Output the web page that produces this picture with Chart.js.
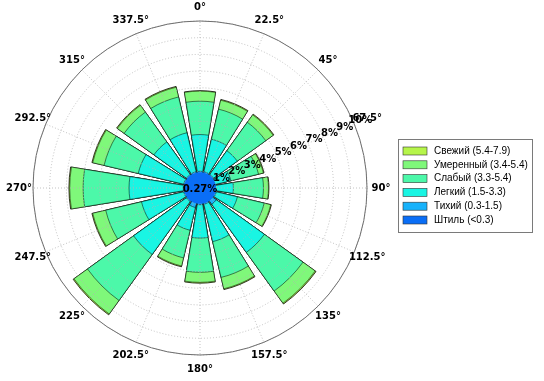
<!DOCTYPE html>
<html>
<head>
<meta charset="utf-8">
<script src="https://cdn.jsdelivr.net/npm/chart.js@4.4.1/dist/chart.umd.min.js"></script>
<style>
html,body{margin:0;padding:0;background:#fff;}
#wrap{width:544px;height:381px;}
</style>
</head>
<body>
<div id="wrap"><canvas id="c" width="544" height="381"></canvas></div>
<script>
// ---------- data ----------
const directions = ['0°','22.5°','45°','67.5°','90°','112.5°','135°','157.5°',
                    '180°','202.5°','225°','247.5°','270°','292.5°','315°','337.5°'];
const speedClasses = ['Штиль (<0.3)','Тихий (0.3-1.5)','Легкий (1.5-3.3)',
                      'Слабый (3.3-5.4)','Умеренный (3.4-5.4)','Свежий (5.4-7.9)'];
const calmPercent = 0.27;
const radialTicks = [1,2,3,4,5,6,7,8,9,10];

// frequency (%) of each speed class per direction
const shtil     = [0.30,0.30,0.30,0.30,0.30,0.30,0.30,0.30,0.30,0.30,0.30,0.30,0.30,0.30,0.30,0.30];
const tikhiy    = [0.70,0.70,0.70,0.60,0.60,0.70,0.90,0.70,0.70,0.90,0.70,0.70,0.70,0.70,0.70,0.70];
const legkiy    = [2.20,2.00,1.75,1.00,1.10,1.30,3.55,2.30,2.00,1.40,3.90,2.60,3.25,2.80,2.40,2.40];
const slabyy    = [2.00,1.85,2.10,1.70,1.80,1.65,2.85,2.20,2.05,1.70,3.40,2.20,2.75,2.10,2.20,2.20];
const umerennyy = [0.60,0.55,0.55,0.30,0.30,0.40,0.90,0.70,0.60,0.50,1.00,0.80,0.80,0.70,0.50,0.60];
const svezhiy   = [0.03,0.05,0.05,0.04,0.03,0.04,0.06,0.05,0.05,0.05,0.06,0.05,0.05,0.05,0.05,0.05];

const classValues = [shtil, tikhiy, legkiy, slabyy, umerennyy, svezhiy];
const classColors = ['#0a6ef6','#17b2fb','#19f5e3','#4cf8a9','#7ff87a','#b6f54a'];

// ---------- build stacked (cumulative) wedges ----------
const BAR = 18.5, GAP = 22.5 - BAR;
const labels32 = [];
directions.forEach(d => { labels32.push(d); labels32.push(''); });
const cumulative = [];
let running = directions.map(() => 0);
classValues.forEach(arr => {
  running = running.map((v, i) => v + arr[i]);
  cumulative.push(running.slice());
});
const datasets = cumulative.map((cum, k) => {
  const data = [];
  cum.forEach(v => { data.push(v); data.push(null); });
  return {
    label: speedClasses[k],
    data: data,
    backgroundColor: classColors[k],
    borderColor: 'rgba(0,0,0,0.85)',
    borderWidth: k === classValues.length - 1 ? 0.9 : 0.6,
    angle: (ctx) => (ctx.dataIndex % 2 ? GAP : BAR)
  };
});

// ---------- overlay plugin ----------
const windrosePlugin = {
  id: 'windrose',
  afterDraw(chart) {
    const s = chart.scales.r, ctx = chart.ctx;
    const cx = s.xCenter, cy = s.yCenter, R = s.drawingArea;
    ctx.save();
    // spokes
    ctx.strokeStyle = '#b4b4b4'; ctx.lineWidth = 0.8; ctx.setLineDash([1, 2]);
    directions.forEach(d => {
      const a = parseFloat(d) * Math.PI / 180;
      ctx.beginPath(); ctx.moveTo(cx, cy);
      ctx.lineTo(cx + R * Math.sin(a), cy - R * Math.cos(a)); ctx.stroke();
    });
    ctx.setLineDash([]);
    // outer circle
    ctx.strokeStyle = '#6e6e6e'; ctx.lineWidth = 1;
    ctx.beginPath(); ctx.arc(cx, cy, R, 0, Math.PI * 2); ctx.stroke();
    // calm circle
    const rc = s.getDistanceFromCenterForValue(0.95);
    ctx.fillStyle = classColors[0];
    ctx.beginPath(); ctx.arc(cx, cy, rc, 0, Math.PI * 2); ctx.fill();
    ctx.fillStyle = '#000'; ctx.font = 'bold 10px "DejaVu Sans"';
    ctx.textAlign = 'center'; ctx.textBaseline = 'middle';
    ctx.fillText(calmPercent.toFixed(2) + '%', cx, cy + 1);
    // radial labels
    const ra = 67.5 * Math.PI / 180;
    radialTicks.forEach(v => {
      const r = s.getDistanceFromCenterForValue(v);
      ctx.fillText(v + '%', cx + r * Math.sin(ra) + 6, cy - r * Math.cos(ra) - 3.5);
    });
    // angular labels
    directions.forEach(d => {
      const a = parseFloat(d) * Math.PI / 180;
      const rl = R + 14;
      ctx.fillText(d, cx + rl * Math.sin(a), cy - rl * Math.cos(a));
    });
    // legend
    const lx = 398, ly = 139, lw = 134, lh = 93;
    ctx.fillStyle = '#fff'; ctx.fillRect(lx, ly, lw, lh);
    ctx.strokeStyle = '#7a7a7a'; ctx.lineWidth = 1;
    ctx.strokeRect(lx + 0.5, ly + 0.5, lw, lh);
    ctx.font = '10px "Liberation Sans", Arial, sans-serif';
    ctx.textAlign = 'left'; ctx.textBaseline = 'middle';
    for (let k = speedClasses.length - 1, row = 0; k >= 0; k--, row++) {
      const y = ly + 12 + row * 13.8;
      ctx.fillStyle = classColors[k];
      ctx.fillRect(lx + 5, y - 4, 24, 8);
      ctx.strokeStyle = '#333'; ctx.lineWidth = 0.6;
      ctx.strokeRect(lx + 5, y - 4, 24, 8);
      ctx.fillStyle = '#000';
      ctx.fillText(speedClasses[k], lx + 36, y);
    }
    ctx.restore();
  }
};

new Chart(document.getElementById('c'), {
  type: 'polarArea',
  data: { labels: labels32, datasets: datasets },
  options: {
    responsive: false,
    animation: false,
    devicePixelRatio: 1,
    layout: { padding: { left: 33, top: 21, right: 177, bottom: 26 } },
    plugins: { legend: { display: false }, tooltip: { enabled: false } },
    scales: {
      r: {
        min: 0, max: 10,
        startAngle: -BAR / 2,
        ticks: { display: false, stepSize: 1 },
        grid: { circular: true, color: '#b4b4b4', lineWidth: 0.8, z: 1 },
        border: { dash: [1, 2] },
        angleLines: { display: false },
        pointLabels: { display: false }
      }
    }
  },
  plugins: [windrosePlugin]
});
</script>
</body>
</html>
